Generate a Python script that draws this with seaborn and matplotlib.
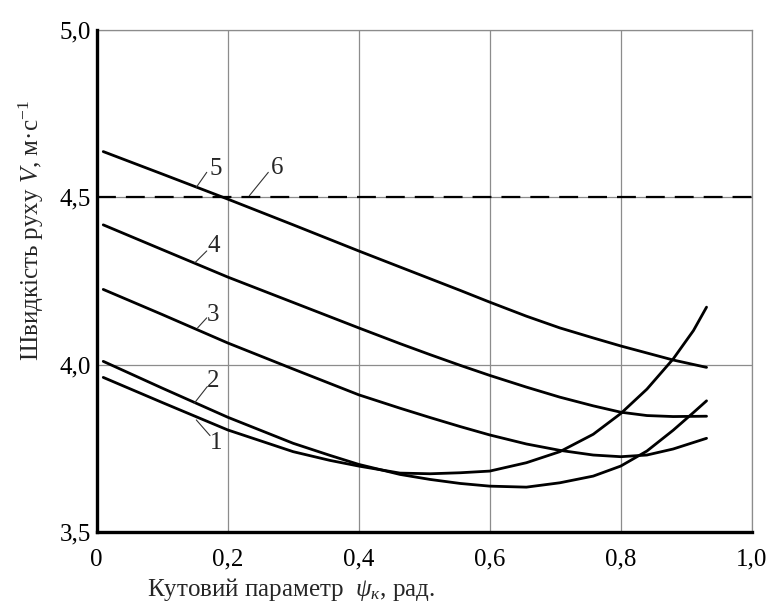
import numpy as np
import pandas as pd
import matplotlib
matplotlib.use("Agg")
import matplotlib.pyplot as plt
import seaborn as sns

# ---- data ----
x_c1 = [0.01, 0.10, 0.20, 0.30, 0.356, 0.40, 0.463, 0.509, 0.555, 0.60, 0.656, 0.707, 0.758, 0.80, 0.84, 0.88, 0.911, 0.931]
v_c1 = [3.962, 3.887, 3.805, 3.740, 3.714, 3.697, 3.676, 3.674, 3.677, 3.682, 3.707, 3.740, 3.792, 3.854, 3.927, 4.017, 4.102, 4.172]

x_c2 = [0.01, 0.10, 0.20, 0.30, 0.356, 0.40, 0.463, 0.509, 0.555, 0.60, 0.656, 0.707, 0.758, 0.80, 0.84, 0.88, 0.911, 0.931]
v_c2 = [4.010, 3.930, 3.843, 3.765, 3.729, 3.702, 3.672, 3.657, 3.645, 3.637, 3.634, 3.647, 3.667, 3.697, 3.742, 3.804, 3.857, 3.892]

x_c3 = [0.01, 0.10, 0.20, 0.30, 0.40, 0.463, 0.509, 0.555, 0.60, 0.656, 0.707, 0.758, 0.80, 0.84, 0.88, 0.931]
v_c3 = [4.225, 4.150, 4.065, 3.987, 3.910, 3.870, 3.842, 3.815, 3.790, 3.763, 3.744, 3.730, 3.725, 3.730, 3.748, 3.780]

x_c4 = [0.01, 0.10, 0.20, 0.30, 0.40, 0.463, 0.509, 0.555, 0.60, 0.656, 0.707, 0.758, 0.80, 0.84, 0.88, 0.931]
v_c4 = [4.418, 4.344, 4.262, 4.186, 4.110, 4.063, 4.030, 3.998, 3.968, 3.933, 3.903, 3.877, 3.858, 3.848, 3.845, 3.846]

x_c5 = [0.01, 0.10, 0.20, 0.30, 0.40, 0.463, 0.509, 0.555, 0.60, 0.656, 0.707, 0.758, 0.80, 0.84, 0.88, 0.931]
v_c5 = [4.637, 4.570, 4.495, 4.418, 4.340, 4.292, 4.257, 4.222, 4.187, 4.145, 4.110, 4.080, 4.056, 4.035, 4.014, 3.992]

x_c6 = [0.0, 1.0]
v_c6 = [4.5, 4.5]

curve_names = ["1", "2", "3", "4", "5", "6"]
x_ticks = [0.0, 0.2, 0.4, 0.6, 0.8, 1.0]
x_tick_labels = ["0", "0,2", "0,4", "0,6", "0,8", "1,0"]
y_ticks = [3.5, 4.0, 4.5, 5.0]
y_tick_labels = ["3,5", "4,0", "4,5", "5,0"]

# label positions (text pos, leader start, leader end)
label_text = {"1": (0.182, 3.765), "2": (0.178, 3.950), "3": (0.177, 4.150),
              "4": (0.179, 4.355), "5": (0.181, 4.586), "6": (0.275, 4.588)}
label_leader = {"1": ((0.173, 3.788), (0.152, 3.835)),
                "2": ((0.169, 3.935), (0.149, 3.885)),
                "3": ((0.168, 4.140), (0.154, 4.110)),
                "4": ((0.168, 4.340), (0.150, 4.305)),
                "5": ((0.168, 4.575), (0.152, 4.530)),
                "6": ((0.262, 4.575), (0.233, 4.505))}

frames = []
for name, xs, vs in zip(curve_names, [x_c1, x_c2, x_c3, x_c4, x_c5, x_c6],
                        [v_c1, v_c2, v_c3, v_c4, v_c5, v_c6]):
    frames.append(pd.DataFrame({"psi": xs, "V": vs, "curve": name}))
df = pd.concat(frames, ignore_index=True)

sns.set_style("white")
plt.rcParams["font.family"] = ["Liberation Serif", "DejaVu Serif"]
plt.rcParams["mathtext.fontset"] = "custom"
plt.rcParams["mathtext.rm"] = "Liberation Serif"
plt.rcParams["mathtext.it"] = "Liberation Serif:italic"
plt.rcParams["lines.solid_joinstyle"] = "round"

fig = plt.figure(figsize=(7.73, 6.15), dpi=100)
ax = fig.add_axes([0.1251, 0.135, 0.8474, 0.816])

palette = {n: "black" for n in curve_names}
sns.lineplot(data=df[df.curve != "6"], x="psi", y="V", hue="curve", palette=palette,
             estimator=None, sort=False, linewidth=2.0, legend=False, ax=ax)
sns.lineplot(data=df[df.curve == "6"], x="psi", y="V", color="black",
             estimator=None, sort=False, linewidth=1.6, legend=False, ax=ax,
             dashes=False)
ax.lines[-1].set_dashes([8.5, 4.5])
ax.lines[-1].set_zorder(3)

ax.set_xlim(0, 1.0)
ax.set_ylim(3.5, 5.0)
ax.set_xticks(x_ticks)
ax.set_xticklabels(x_tick_labels)
ax.set_yticks(y_ticks)
ax.set_yticklabels(y_tick_labels)
ax.tick_params(axis="both", length=0, labelsize=18, colors="black")
ax.tick_params(axis="x", pad=12)
ax.tick_params(axis="y", pad=4)
ax.grid(True, color="#8c8c8c", linewidth=0.9)
ax.set_axisbelow(True)

for s in ["left", "bottom"]:
    ax.spines[s].set_color("black")
    ax.spines[s].set_linewidth(2.4)
    ax.spines[s].set_zorder(5)
for s in ["top", "right"]:
    ax.spines[s].set_color("#8c8c8c")
    ax.spines[s].set_linewidth(0.9)

for n in curve_names:
    tx, ty = label_text[n]
    ax.text(tx, ty, n, fontsize=18, ha="center", va="center")
    (x0, y0), (x1, y1) = label_leader[n]
    ax.plot([x0, x1], [y0, y1], color="#333333", linewidth=0.8)

ax.set_xlabel("Кутовий параметр  $\\psi_{к}$, рад.", fontsize=18)
ax.set_ylabel("Швидкість руху $V$, м·с$^{-1}$", fontsize=18)
ax.xaxis.set_label_coords(0.297, -0.088)
ax.yaxis.set_label_coords(-0.078, 0.60)

fig.savefig("out.png", dpi=100, facecolor="white")
